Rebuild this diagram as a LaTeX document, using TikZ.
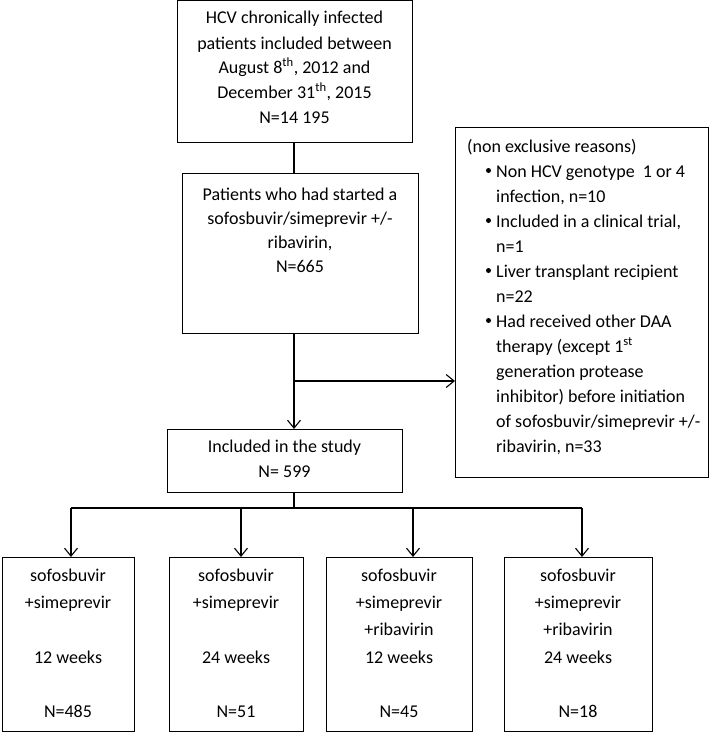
\documentclass[tikz,border=0pt]{standalone}
\usepackage{fontspec}
\setmainfont{Carlito}
\usetikzlibrary{arrows.meta}
\begin{document}
\begin{tikzpicture}[x=1pt,y=-1pt,
  box/.style={draw, line width=1pt, inner sep=0pt, outer sep=0pt, anchor=north west},
  txt/.style={anchor=base, inner sep=0pt, font=\fontsize{18}{21}\selectfont},
  ltxt/.style={anchor=base west, inner sep=0pt, font=\fontsize{18}{21}\selectfont},
  bul/.style={circle, fill, inner sep=0pt, minimum size=5pt},
  conn/.style={line width=1.1pt},
  arr/.style={conn, -{Straight Barb[length=8pt,width=13pt,line width=1.1pt]}}]
\useasboundingbox (0,0) rectangle (709,732);
% boxes
\node[box, minimum width=235pt, minimum height=141.5pt] (b1) at (177,0.6) {};
\node[box, minimum width=236pt, minimum height=160pt] (b2) at (182,173) {};
\node[box, minimum width=253pt, minimum height=350pt] (rb) at (455,127) {};
\node[box, minimum width=235pt, minimum height=63pt] (b3) at (167,429) {};
\node[box, minimum width=132pt, minimum height=174pt] (bA) at (2,557) {};
\node[box, minimum width=134pt, minimum height=174pt] (bB) at (169,557) {};
\node[box, minimum width=146pt, minimum height=174pt] (bC) at (326,557) {};
\node[box, minimum width=148pt, minimum height=174pt] (bD) at (504,557) {};
% box 1 text
\foreach \y/\t [count=\i] in {23/{HCV chronically infected},
  49/{patients included between},
  73/{August 8\textsuperscript{th}, 2012 and},
  98/{December 31\textsuperscript{th}, 2015},
  123/{N=14 195}}
  \node[txt] (ta\i) at (294.5,\y) {\t};
% box 2 text
\foreach \y/\t [count=\i] in {200/{Patients who had started a},
  224/{sofosbuvir/simeprevir +/-},
  248/{ribavirin,},
  272/{N=665}}
  \node[txt] (tb\i) at (300,\y) {\t};
% box 3 text
\node[txt] (tc1) at (284.5,452) {Included in the study};
\node[txt] (tc2) at (284.5,477) {N= 599};
% right box text
\node[ltxt] (r0) at (467,152) {(non exclusive reasons)};
\foreach \k/\t in {1/{Non HCV genotype\ \ 1 or 4},
  2/{infection, n=10},
  3/{Included in a clinical trial,},
  4/{n=1},
  5/{Liver transplant recipient},
  6/{n=22},
  7/{Had received other DAA},
  8/{therapy (except 1\textsuperscript{st}},
  9/{generation protease},
  10/{inhibitor) before initiation},
  11/{of sofosbuvir/simeprevir +/-},
  12/{ribavirin, n=33}}
  \node[ltxt] (r\k) at (496,152+25*\k) {\t};
\foreach \k in {1,3,5,7}
  \node[bul] (rbul\k) at (488.5,145.5+25*\k) {};
% bottom texts
\foreach \t/\y [count=\i] in {sofosbuvir/581, +simeprevir/608, 12 weeks/663, N=485/717}
  \node[txt] (tA\i) at (68,\y) {\t};
\foreach \t/\y [count=\i] in {sofosbuvir/581, +simeprevir/608, 24 weeks/663, N=51/717}
  \node[txt] (tB\i) at (236,\y) {\t};
\foreach \t/\y [count=\i] in {sofosbuvir/581, +simeprevir/608, +ribavirin/635, 12 weeks/663, N=45/717}
  \node[txt] (tC\i) at (399,\y) {\t};
\foreach \t/\y [count=\i] in {sofosbuvir/581, +simeprevir/608, +ribavirin/635, 24 weeks/663, N=18/717}
  \node[txt] (tD\i) at (578,\y) {\t};
% connectors
\coordinate (s) at (294,0);
\coordinate (br) at (294,381);
\coordinate (hm) at (294,508);
\coordinate (a1) at (71,508);
\coordinate (a2) at (241,508);
\coordinate (a3) at (413,508);
\coordinate (a4) at (582,508);
\draw[conn] (b1.south -| s) -- (b2.north -| s);
\draw[arr] (b2.south -| s) -- (b3.north -| s);
\draw[arr] (br) -- (br -| rb.west);
\draw[conn] (b3.south -| s) -- (hm);
\draw[conn] (a1) -- (a4);
\draw[arr] (a1) -- (a1 |- bA.north);
\draw[arr] (a2) -- (a2 |- bB.north);
\draw[arr] (a3) -- (a3 |- bC.north);
\draw[arr] (a4) -- (a4 |- bD.north);
\end{tikzpicture}
\end{document}
